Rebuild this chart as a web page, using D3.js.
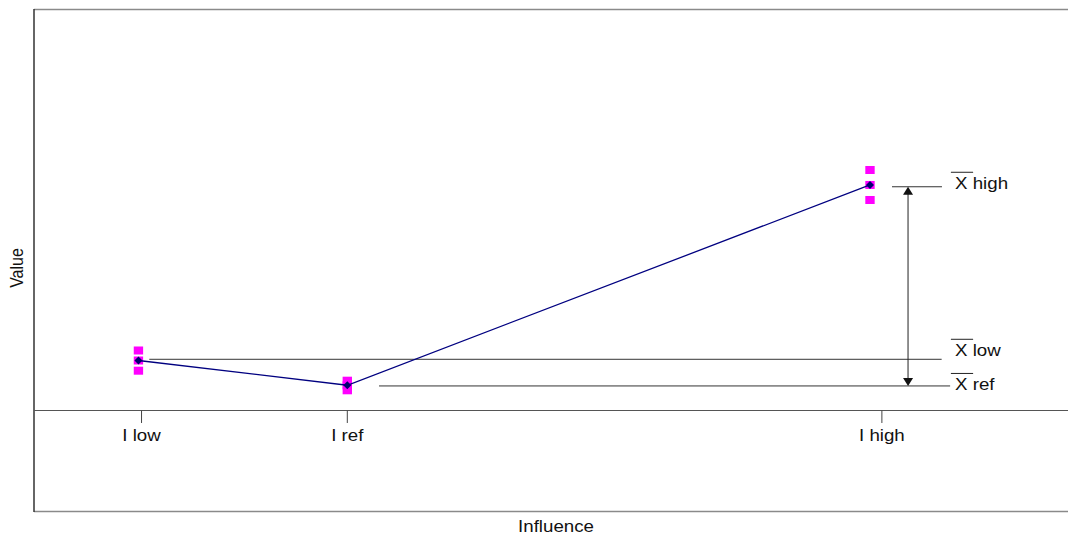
<!DOCTYPE html>
<html><head><meta charset="utf-8">
<script src="https://cdn.jsdelivr.net/npm/d3@7/dist/d3.min.js"></script>
<style>body{margin:0;background:#fff}svg{display:block}text{font-family:"Liberation Sans",Arial,sans-serif;fill:#111}</style>
</head><body><svg id="c" width="1068" height="534"></svg>
<script>
// ---- data ----
const categories = ["I low", "I ref", "I high"];
const influence = [10.1, 30.3, 80.85];      // x position of observations
const tickValues = [10.4, 30.3, 82.0];       // x tick positions
const obsUpper = [0.594, 0.295, 2.381];
const obsMiddle = [0.495, 0.250, 2.233];
const obsLower = [0.394, 0.200, 2.084];
const means = [0.495, 0.250, 2.233];
const refNames = ["low", "ref", "high"];
const refLevels = [0.507, 0.243, 2.215];
const refStart = [11.15, 33.37, 82.98];
const refEnd = [87.78, 88.6, 87.81];
const arrowX = 84.53;
const labelX = 89.07;
const labelDy = [-3, 4.5, 2.5];

const svg = d3.select("#c");
const x = d3.scaleLinear().domain([0, 100]).range([34, 1068]);
const y = d3.scaleLinear().domain([-1, 3.97]).range([511.5, 9.5]);
const SX = 1.17;

// frame
svg.append("line").attr("x1", 34).attr("x2", 1068).attr("y1", 9.5).attr("y2", 9.5).attr("stroke", "#8a8a8a").attr("stroke-width", 1.4);
svg.append("line").attr("x1", 34).attr("x2", 1068).attr("y1", 511.5).attr("y2", 511.5).attr("stroke", "#8a8a8a").attr("stroke-width", 1.4);
svg.append("line").attr("x1", 34).attr("x2", 34).attr("y1", 9).attr("y2", 512).attr("stroke", "#333").attr("stroke-width", 1.5);

// zero line / x axis
svg.append("line").attr("x1", 34).attr("x2", 1068).attr("y1", y(0)).attr("y2", y(0)).attr("stroke", "#555").attr("stroke-width", 1.2);
const ticks = svg.append("g");
tickValues.forEach((t, i) => {
  ticks.append("line").attr("x1", x(t)).attr("x2", x(t)).attr("y1", y(0)).attr("y2", y(0) + 12.5).attr("stroke", "#444").attr("stroke-width", 1);
  ticks.append("g").attr("transform", `translate(${x(t)},441) scale(${SX},1)`)
    .append("text").attr("text-anchor", "middle").attr("font-size", 16).text(categories[i]);
});

// axis titles
svg.append("g").attr("transform", `translate(556,531.5) scale(${SX},1)`)
  .append("text").attr("text-anchor", "middle").attr("font-size", 16).text("Influence");
svg.append("g").attr("transform", `translate(23,268) scale(${SX},1) rotate(-90)`)
  .append("text").attr("text-anchor", "middle").attr("font-size", 16).text("Value");

// reference lines
refLevels.forEach((v, i) => {
  svg.append("line").attr("x1", x(refStart[i])).attr("x2", x(refEnd[i])).attr("y1", y(v)).attr("y2", y(v))
    .attr("stroke", "#333").attr("stroke-width", 1);
  const ly = y(v) + labelDy[i];
  const g = svg.append("g").attr("transform", `translate(${x(labelX)},${ly}) scale(${SX},1)`);
  g.append("text").attr("font-size", 16).text("X " + refNames[i]);
  g.append("line").attr("x1", -3.5).attr("x2", 15.5).attr("y1", -17).attr("y2", -17).attr("stroke", "#222").attr("stroke-width", 1);
});

// double arrow between ref and high
const ya = y(refLevels[2]), yb = y(refLevels[1]);
svg.append("line").attr("x1", x(arrowX)).attr("x2", x(arrowX)).attr("y1", ya + 6).attr("y2", yb - 6).attr("stroke", "#222").attr("stroke-width", 1);
svg.append("path").attr("d", `M${x(arrowX)},${ya} l-5,8 l10,0 Z`).attr("fill", "#111");
svg.append("path").attr("d", `M${x(arrowX)},${yb} l-5,-8 l10,0 Z`).attr("fill", "#111");

// observations
const sq = 8;
[obsUpper, obsMiddle, obsLower].forEach(arr => {
  svg.append("g").selectAll("rect").data(arr).join("rect")
    .attr("x", (d, i) => x(influence[i]) - sq / 2 * SX).attr("y", d => y(d) - sq / 2)
    .attr("width", sq * SX).attr("height", sq).attr("fill", "#ff00ff");
});

// mean line
const line = d3.line().x((d, i) => x(influence[i])).y(d => y(d));
svg.append("path").datum(means).attr("d", line).attr("fill", "none").attr("stroke", "#000080").attr("stroke-width", 1.3);
svg.append("g").selectAll("path").data(means).join("path")
  .attr("d", (d, i) => { const cx = x(influence[i]), cy = y(d); return `M${cx},${cy - 4} L${cx + 4},${cy} L${cx},${cy + 4} L${cx - 4},${cy} Z`; })
  .attr("fill", "#000070");
</script></body></html>
